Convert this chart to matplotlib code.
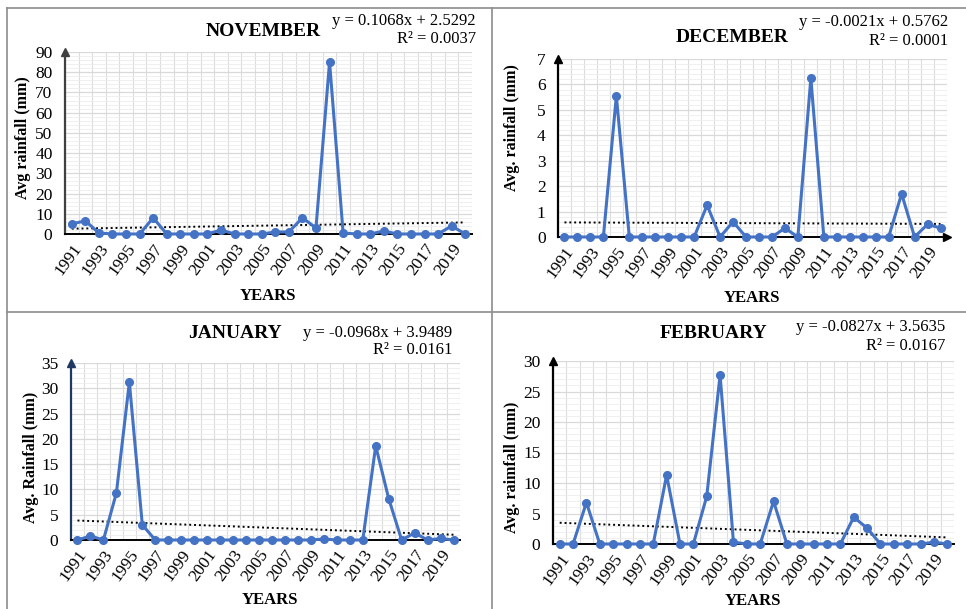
import matplotlib
matplotlib.use("Agg")
import matplotlib.pyplot as plt
import numpy as np
from matplotlib.ticker import MultipleLocator

plt.rcParams['font.family'] = ['Liberation Serif', 'DejaVu Serif']

years = np.arange(1991, 2021)

nov = [5, 6.5, 0.5, 0, 0, 0, 8, 0, 0, 0, 0, 2, 0, 0, 0, 1, 1, 8, 3, 85,
       0.5, 0, 0, 1.5, 0, 0, 0, 0, 4, 0]
dec = [0, 0, 0, 0, 5.55, 0, 0, 0, 0, 0, 0, 1.25, 0, 0.6, 0, 0, 0, 0.35, 0, 6.25,
       0, 0, 0, 0, 0, 0, 1.7, 0, 0.5, 0.35]
jan = [0, 0.8, 0, 9.3, 31.2, 3, 0, 0, 0, 0, 0, 0, 0, 0, 0, 0, 0, 0, 0, 0.2,
       0, 0, 0, 18.6, 8.2, 0, 1.4, 0, 0.3, 0]
feb = [0, 0, 6.8, 0, 0, 0, 0, 0, 11.3, 0, 0, 7.8, 27.7, 0.3, 0, 0, 7, 0, 0, 0,
       0, 0, 4.4, 2.6, 0, 0, 0, 0, 0.3, 0]

# trendline equations as printed on the chart (x = 1..30)
trend = {'nov': (0.1068, 2.5292, '0.0037'),
         'dec': (-0.0021, 0.5762, '0.0001'),
         'jan': (-0.0968, 3.9489, '0.0161'),
         'feb': (-0.0827, 3.5635, '0.0167')}

W, H = 966, 609
fig = plt.figure(figsize=(W / 100, H / 100), dpi=100)
blue = '#4472C4'


def px(x, y):
    return x / W, 1 - y / H


def panel(vals, key, box, ymax, major, title, ylabel, texts, yspine='black', xarrow=False):
    l, r, t, b = box
    ax = fig.add_axes([l / W, 1 - b / H, (r - l) / W, (b - t) / H])
    x = np.arange(1, len(vals) + 1)
    ax.set_xlim(0.5, len(vals) + 0.5)
    ax.set_ylim(0, ymax)
    ax.yaxis.set_major_locator(MultipleLocator(major))
    ax.yaxis.set_minor_locator(MultipleLocator(major / 5))
    ax.grid(True, which='major', color='#d9d9d9', lw=0.9)
    ax.grid(True, which='minor', color='#ececec', lw=0.6)
    ax.set_xticks(x[::2])
    ax.set_xticklabels([str(y) for y in years[::2]], rotation=54, ha='right',
                       va='top', rotation_mode='anchor', fontsize=12.5)
    # vertical gridlines on category boundaries
    ax.set_xticks(np.arange(0.5, len(vals) + 1, 1), minor=True)
    ax.xaxis.grid(False, which='major')
    ax.xaxis.grid(True, which='minor', color='#dcdcdc', lw=0.8)
    ax.tick_params(length=0, which='both')
    ax.tick_params(axis='x', pad=5)
    ax.tick_params(axis='y', pad=9, labelsize=12.5)
    for s in ['top', 'right']:
        ax.spines[s].set_visible(False)
    ax.spines['left'].set_color(yspine)
    ax.spines['left'].set_linewidth(1.6)
    ax.spines['bottom'].set_linewidth(1.4)
    ax.plot(0, 1.0, marker='^', color=yspine, ms=6, transform=ax.transAxes, clip_on=False)
    if xarrow:
        ax.plot(1.0, 0, marker='>', color='black', ms=6, transform=ax.transAxes, clip_on=False)

    a, c, r2 = trend[key]
    ax.plot(x, a * x + c, color='black', ls=(0, (1, 1.5)), lw=1.4, zorder=3)
    ax.plot(x, vals, color=blue, lw=2.2, marker='o', ms=5.5, zorder=4, clip_on=False)

    tx, ty = texts['title']
    fig.text(*px(tx, ty), title, fontsize=14, fontweight='bold', ha='center', va='center')
    sign = '+' if c >= 0 else '-'
    eq = 'y = %.4fx %s %.4f' % (a, sign, abs(c))
    ex, ey1, ey2 = texts['eq']
    fig.text(*px(ex, ey1), eq, fontsize=12, ha='right', va='center')
    fig.text(*px(ex, ey2), 'R² = ' + r2, fontsize=12, ha='right', va='center')
    lx, ly = texts['ylabel']
    fig.text(*px(lx, ly), ylabel, fontsize=11.5, fontweight='bold', rotation=90,
             ha='center', va='center')
    yx, yy = texts['years']
    fig.text(*px(yx, yy), 'YEARS', fontsize=12, fontweight='bold', ha='center', va='center')
    return ax


panel(nov, 'nov', (65, 472, 52, 234), 90, 10, 'NOVEMBER', 'Avg rainfall (mm)',
      {'title': (263, 32), 'eq': (476, 21, 39), 'ylabel': (23, 138), 'years': (268, 296)},
      yspine='#404040')
panel(dec, 'dec', (558, 947, 59, 237), 7, 1, 'DECEMBER', 'Avg. rainfall (mm)',
      {'title': (732, 37), 'eq': (948, 22, 41), 'ylabel': (512, 128), 'years': (752, 298)},
      xarrow=True)
panel(jan, 'jan', (71, 460, 363, 540), 35, 5, 'JANUARY', 'Avg. Rainfall (mm)',
      {'title': (235, 333), 'eq': (452, 333, 350), 'ylabel': (31, 457), 'years': (270, 600)},
      yspine='#1F3864')
panel(feb, 'feb', (553, 954, 361, 544), 30, 5, 'FEBRUARY', 'Avg. raimfall (mm)',
      {'title': (713, 333), 'eq': (945, 327, 346), 'ylabel': (512, 467), 'years': (753, 601)})

# panel frame lines
frame = dict(color='#8c8c8c', lw=1.2, transform=fig.transFigure)
fig.add_artist(plt.Line2D([7 / W, 1], [1 - 8 / H, 1 - 8 / H], **frame))
fig.add_artist(plt.Line2D([7 / W, 7 / W], [0, 1 - 8 / H], **frame))
fig.add_artist(plt.Line2D([492 / W, 492 / W], [0, 1 - 8 / H], **frame))
fig.add_artist(plt.Line2D([7 / W, 1], [1 - 312 / H, 1 - 312 / H], **frame))

fig.savefig('out.png', dpi=100)
